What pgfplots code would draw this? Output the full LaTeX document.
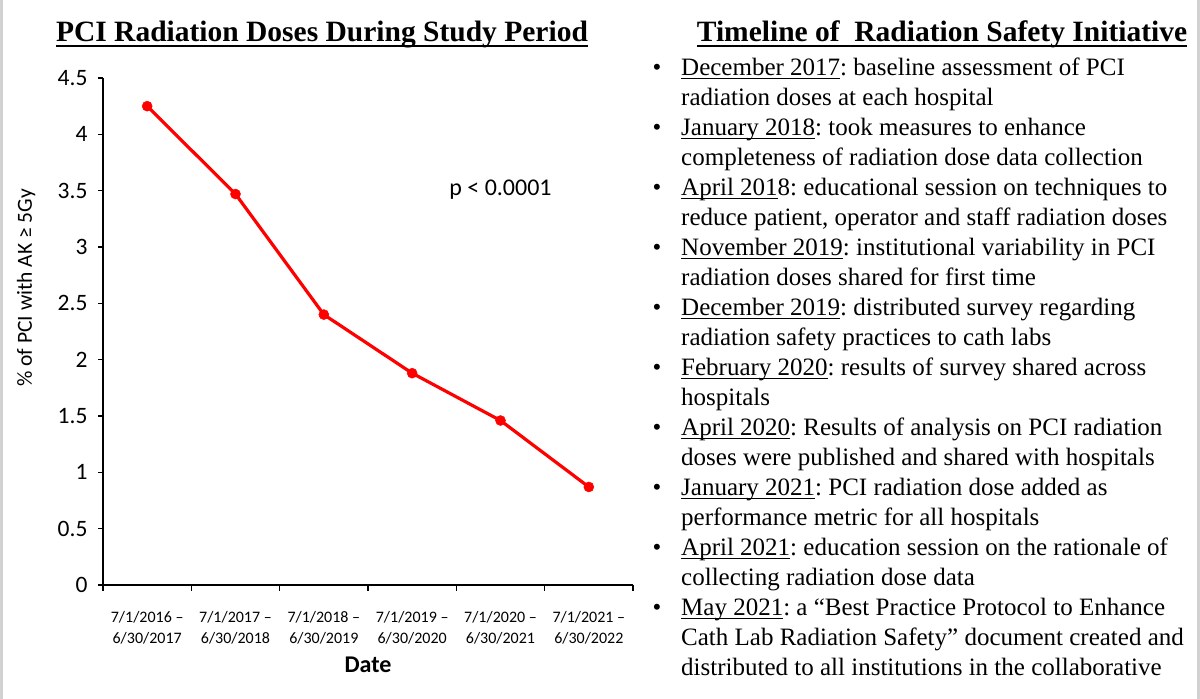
\documentclass[border=0pt]{standalone}
\usepackage{pgfplots}
\pgfplotsset{compat=1.18}
\usepackage{fontspec}
\setmainfont{Liberation Serif}
\newfontfamily\carlito{Carlito}
\frenchspacing
% underline at a fixed depth, as in the slide
\newcommand\ul[1]{\leavevmode\setbox0\hbox{#1}\rlap{\rule[-3.5pt]{\wd0}{1.2pt}}\box0\relax}
\newcommand\tul[1]{\leavevmode\setbox0\hbox{#1}\rlap{\rule[-5pt]{\wd0}{2pt}}\box0\relax}

\begin{document}
\begin{tikzpicture}
\path[use as bounding box] (0,0) rectangle (1200pt,699pt);
\fill[white] (0,0) rectangle (1200pt,699pt);
\fill[black!18] (0,0) rectangle (2.5pt,699pt);
\fill[black!18] (1197pt,0) rectangle (1200pt,699pt);

% left title
\node[anchor=base, inner sep=0, font=\bfseries\fontsize{29.5}{30}\selectfont] at (322pt,657pt) {\tul{PCI Radiation Doses During Study Period}};

\begin{axis}[
    at={(103pt,114pt)}, anchor=south west,
    scale only axis, width=530pt, height=507pt,
    xmin=-0.5, xmax=5.5, ymin=0, ymax=4.5,
    axis lines=left,
    axis line style={-, line width=1.6pt},
    x axis line style={line width=2pt},
    clip=false,
    ytick={0,0.5,1,1.5,2,2.5,3,3.5,4,4.5},
    xtick={0,1,2,3,4,5},
    xticklabels={{7/1/2016 –\\6/30/2017},{7/1/2017 –\\6/30/2018},{7/1/2018 –\\6/30/2019},{7/1/2019 –\\6/30/2020},{7/1/2020 –\\6/30/2021},{7/1/2021 –\\6/30/2022}},
    minor xtick={-0.5,0.5,1.5,2.5,3.5,4.5,5.5},
    tick align=outside,
    major tick length=5pt,
    minor tick length=6pt,
    tick style={black, line width=1.5pt},
    major x tick style={draw=none},
    /pgf/number format/assume math mode=true,
    yticklabel style={font=\carlito\fontsize{23.5}{23.5}\selectfont, xshift=-7pt},
    xticklabel style={font=\carlito\fontsize{16}{21}\selectfont, align=center, yshift=-18pt},
    xlabel={Date},
    x label style={at={(axis description cs:0.5,-0.158)}, anchor=center, font=\carlito\bfseries\fontsize{24}{24}\selectfont},
    ylabel={\% of PCI with AK ≥ 5Gy},
    y label style={at={(axis description cs:-0.145,0.586)}, anchor=center, font=\carlito\fontsize{21.5}{21.5}\selectfont},
  ]
  \addplot[red, line width=3.2pt, mark=*, mark size=5pt, mark options={fill=red, draw=red, line width=0.5pt}]
    coordinates {(0,4.25) (1,3.47) (2,2.40) (3,1.88) (4,1.46) (5,0.87)};
  \node[font=\carlito\fontsize{24}{24}\selectfont] at (axis cs:4,3.51) {p < 0.0001};
\end{axis}

% right title
\node[anchor=base, inner sep=0, font=\bfseries\fontsize{29.5}{30}\selectfont] at (942pt,657pt) {\tul{Timeline of\ \ Radiation Safety Initiative}};

\begin{scope}[every node/.style={anchor=base west, inner sep=0, font=\fontsize{25}{30}\selectfont}]
  \node at (681pt,623pt) {\ul{December 2017}: baseline assessment of PCI};
  \node at (681pt,593pt) {radiation doses at each hospital};
  \node at (681pt,563pt) {\ul{January 2018}: took measures to enhance};
  \node at (681pt,533pt) {completeness of radiation dose data collection};
  \node at (681pt,503pt) {\ul{April 201}8: educational session on techniques to};
  \node at (681pt,473pt) {reduce patient, operator and staff radiation doses};
  \node at (681pt,443pt) {\ul{November 2019}: institutional variability in PCI};
  \node at (681pt,413pt) {radiation doses shared for first time};
  \node at (681pt,383pt) {\ul{December 2019}: distributed survey regarding};
  \node at (681pt,353pt) {radiation safety practices to cath labs};
  \node at (681pt,323pt) {\ul{February 2020}: results of survey shared across};
  \node at (681pt,293pt) {hospitals};
  \node at (681pt,263pt) {\ul{April 2020}: Results of analysis on PCI radiation};
  \node at (681pt,233pt) {doses were published and shared with hospitals};
  \node at (681pt,203pt) {\ul{January 2021}: PCI radiation dose added as};
  \node at (681pt,173pt) {performance metric for all hospitals};
  \node at (681pt,143pt) {\ul{April 2021}: education session on the rationale of};
  \node at (681pt,113pt) {collecting radiation dose data};
  \node at (681pt,83pt) {\ul{May 2021}: a “Best Practice Protocol to Enhance};
  \node at (681pt,53pt) {Cath Lab Radiation Safety” document created and};
  \node at (681pt,23pt) {distributed to all institutions in the collaborative};
\end{scope}
\begin{scope}[every node/.style={anchor=base, inner sep=0, font=\fontsize{25}{30}\selectfont}]
  \foreach \y in {623,563,503,443,383,323,263,203,143,83}
    \node at (657pt,\y pt) {•};
\end{scope}
\end{tikzpicture}
\end{document}
